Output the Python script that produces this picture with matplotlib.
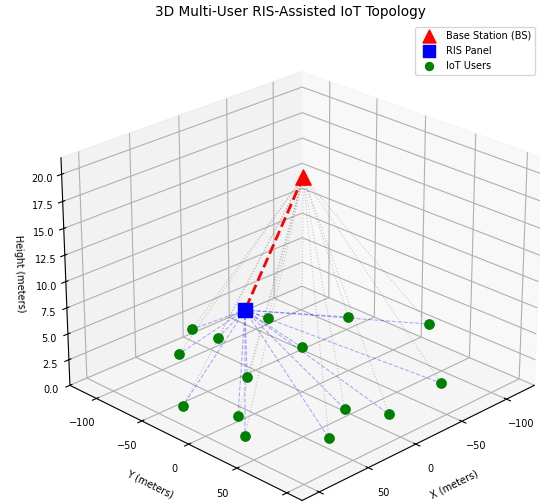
import numpy as np
import matplotlib
matplotlib.use('Agg')
import matplotlib.pyplot as plt

# positions in meters
bs_pos = [-4.5, -3.5, 20.0]
ris_pos = [56.5, -2.5, 10.0]
user_x = [9.5, 6.0, 46.0, -46.0, -91.5, -127.0, -28.5, 36.0, -59.5, 101.5, 84.0, 21.0, 4.0, 101.5, 61.0]
user_y = [-109.5, -84.5, -85.5, -82.5, -40.0, 12.5, -28.5, -22.0, 85.5, -22.0, 17.5, 64.0, 92.0, 42.5, 86.5]
user_z = [2.0, 2.0, 2.0, 2.0, 2.0, 2.0, 2.0, 2.0, 2.0, 2.0, 2.0, 2.0, 2.0, 2.0, 2.0]

fig = plt.figure(figsize=(5.4, 5.04), dpi=100)
ax = fig.add_axes([0.065, -0.073, 0.963, 1.032], projection='3d')

# links BS -> users and RIS -> users
for i in range(len(user_x)):
    ax.plot([bs_pos[0], user_x[i]], [bs_pos[1], user_y[i]], [bs_pos[2], user_z[i]],
            color='gray', ls=':', lw=0.8, alpha=0.4)
    ax.plot([ris_pos[0], user_x[i]], [ris_pos[1], user_y[i]], [ris_pos[2], user_z[i]],
            'b--', lw=0.8, alpha=0.3)
# BS -> RIS
ax.plot([bs_pos[0], ris_pos[0]], [bs_pos[1], ris_pos[1]], [bs_pos[2], ris_pos[2]], 'r--', lw=2)

ax.scatter([bs_pos[0]], [bs_pos[1]], [bs_pos[2]], c='red', marker='^', s=120,
           depthshade=False, label='Base Station (BS)')
ax.scatter([ris_pos[0]], [ris_pos[1]], [ris_pos[2]], c='blue', marker='s', s=110,
           depthshade=False, label='RIS Panel')
ax.scatter(user_x, user_y, user_z, c='green', marker='o', s=45,
           depthshade=False, label='IoT Users')

ax.set_xlim(-132, 117)
ax.set_ylim(-130, 115)
ax.set_zlim(0, 21.5)
ax.view_init(elev=25, azim=45)
ax.set_xlabel('X (meters)', fontsize=7)
ax.set_ylabel('Y (meters)', fontsize=7)
ax.set_zlabel('Height (meters)', fontsize=7, labelpad=-2)
ax.tick_params(labelsize=7)
ax.tick_params(axis='z', pad=0)

fig.text(290 / 540, 1 - 12 / 504, '3D Multi-User RIS-Assisted IoT Topology', fontsize=9.8,
         ha='center', va='center')
fig.legend(loc='upper left', bbox_to_anchor=(415 / 540, 1 - 27 / 504), fontsize=7,
           borderaxespad=0, markerscale=0.85)

fig.savefig('out.png', dpi=100)
